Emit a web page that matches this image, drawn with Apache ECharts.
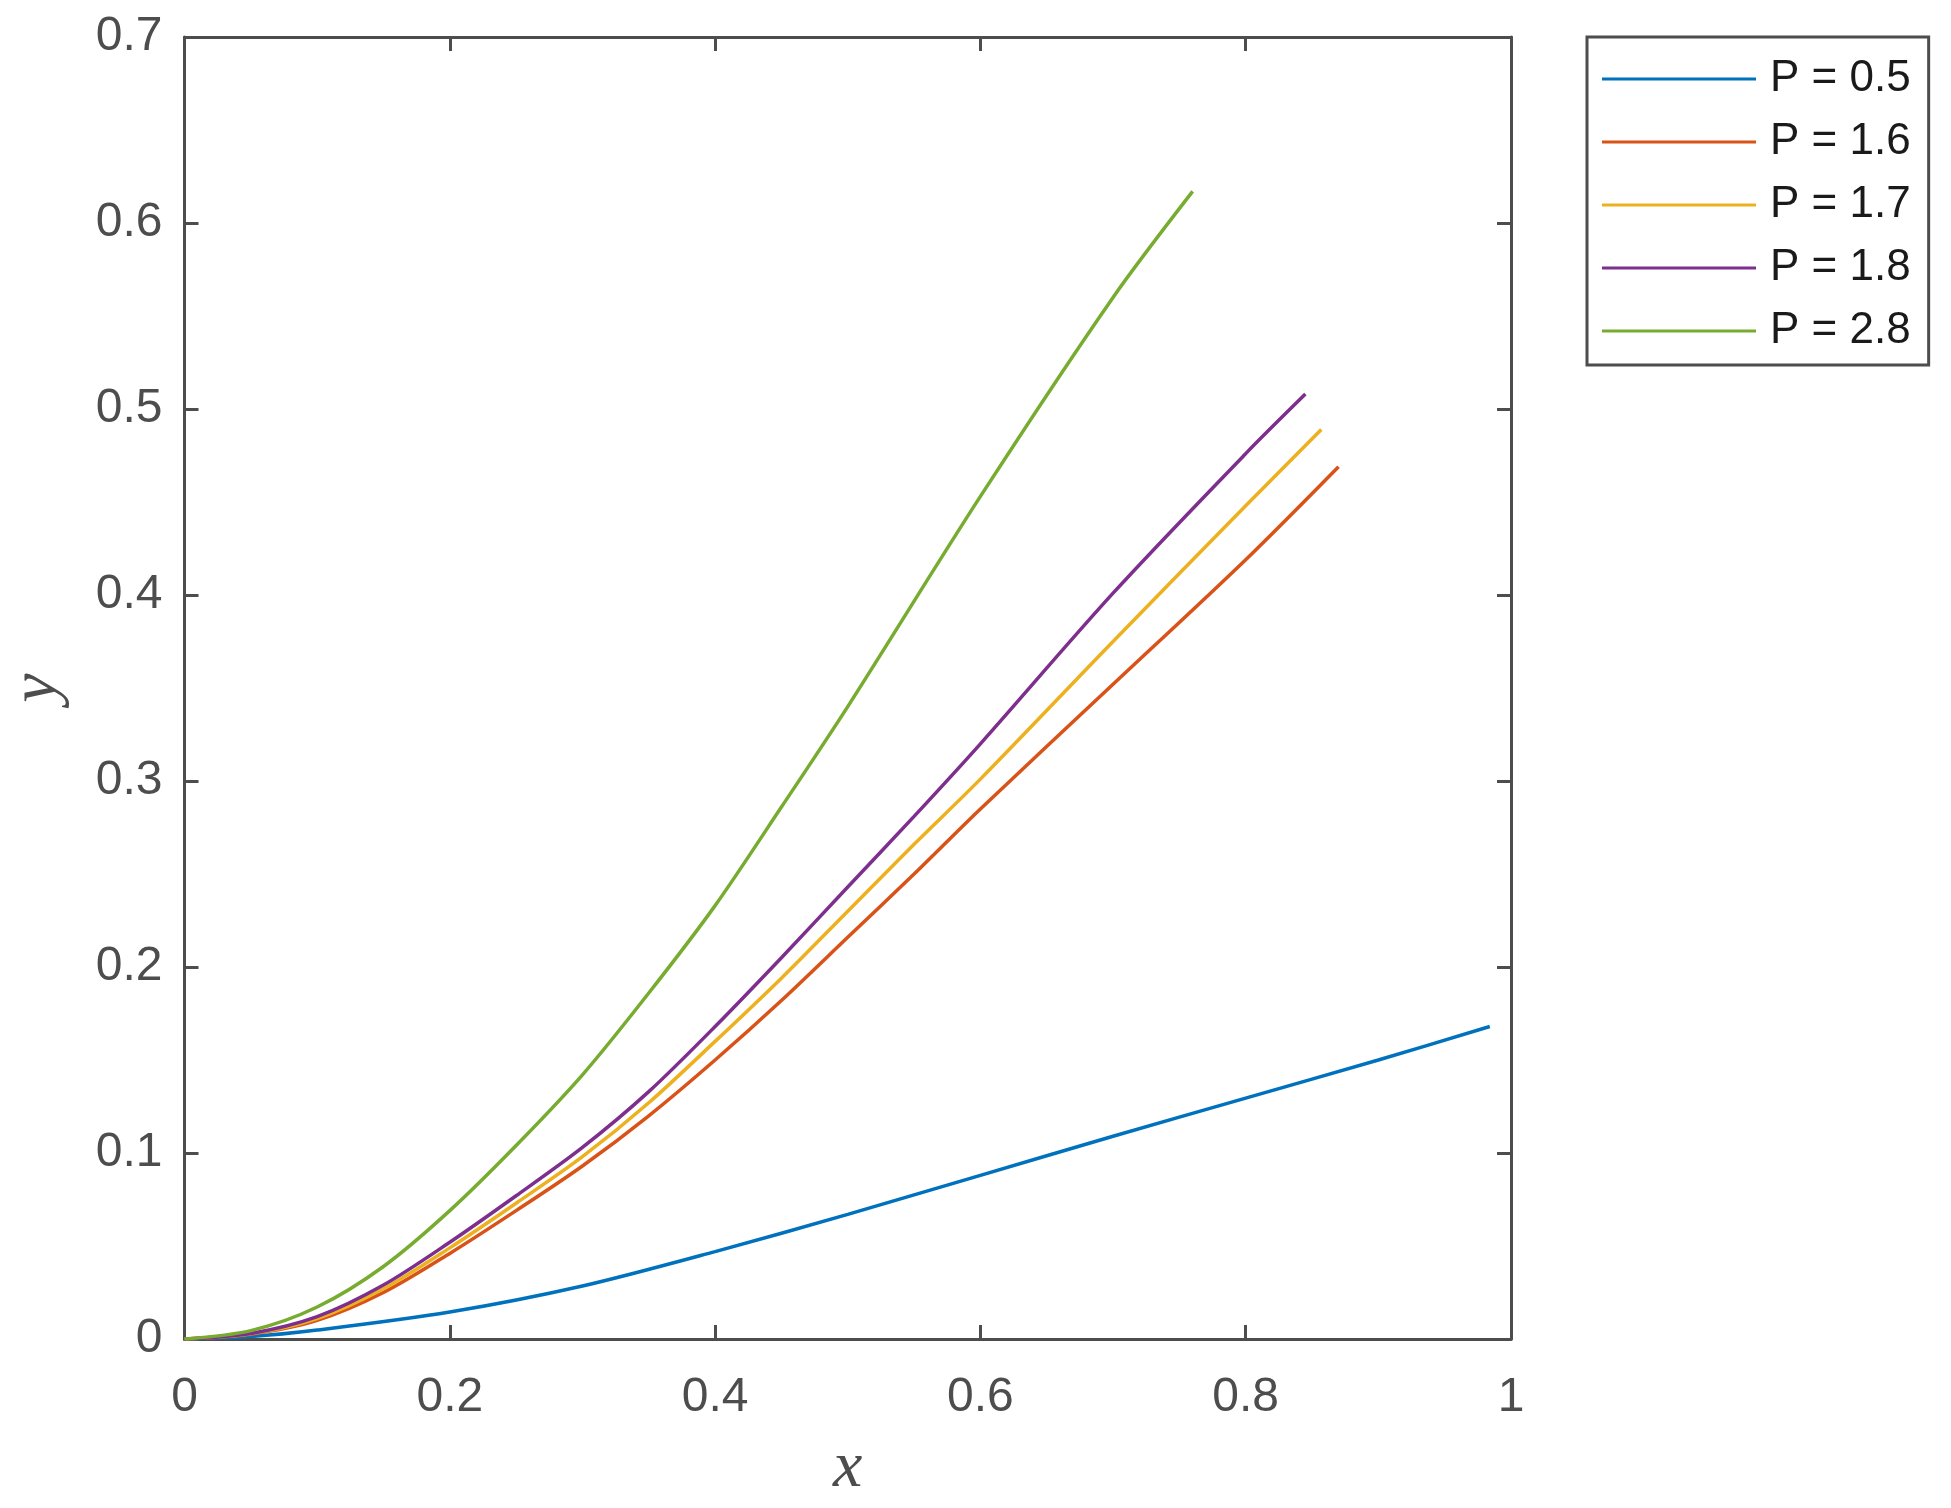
<!DOCTYPE html>
<html>
<head>
<meta charset="utf-8">
<script src="https://cdn.jsdelivr.net/npm/echarts@6/dist/echarts.min.js"></script>
<style>
html,body{margin:0;padding:0;background:#fff;}
#chart{width:1951px;height:1508px;}
</style>
</head>
<body>
<div id="chart"></div>
<script>
// ---- data ----
const seriesNames = ['P = 0.5', 'P = 1.6', 'P = 1.7', 'P = 1.8', 'P = 2.8'];

const xP05 = [0, 0.05, 0.1, 0.2, 0.3, 0.4, 0.5, 0.6, 0.7, 0.8, 0.9, 0.984];
const yP05 = [0, 0.0013, 0.0048, 0.0145, 0.0285, 0.047, 0.067, 0.088, 0.109, 0.1295, 0.150, 0.168];

const xP16 = [0, 0.05, 0.1, 0.15, 0.2, 0.25, 0.3, 0.35, 0.4, 0.45, 0.5, 0.55, 0.6, 0.7, 0.8, 0.870];
const yP16 = [0, 0.0026, 0.010, 0.025, 0.046, 0.069, 0.093, 0.120, 0.150, 0.182, 0.216, 0.250, 0.285, 0.352, 0.419, 0.469];

const xP17 = [0, 0.05, 0.1, 0.15, 0.2, 0.25, 0.3, 0.35, 0.4, 0.45, 0.5, 0.55, 0.6, 0.7, 0.8, 0.857];
const yP17 = [0, 0.0028, 0.011, 0.027, 0.049, 0.073, 0.098, 0.127, 0.160, 0.194, 0.230, 0.266, 0.301, 0.375, 0.448, 0.489];

const xP18 = [0, 0.05, 0.1, 0.15, 0.2, 0.25, 0.3, 0.35, 0.4, 0.45, 0.5, 0.55, 0.6, 0.7, 0.8, 0.845];
const yP18 = [0, 0.003, 0.012, 0.029, 0.052, 0.077, 0.103, 0.133, 0.168, 0.205, 0.243, 0.281, 0.320, 0.401, 0.476, 0.508];

const xP28 = [0, 0.05, 0.1, 0.15, 0.2, 0.25, 0.3, 0.35, 0.4, 0.45, 0.5, 0.6, 0.7, 0.76];
const yP28 = [0, 0.0045, 0.0172, 0.039, 0.069, 0.104, 0.142, 0.186, 0.233, 0.286, 0.340, 0.453, 0.560, 0.617];

const xTicks = ['0', '0.2', '0.4', '0.6', '0.8', '1'];
const yTicks = ['0', '0.1', '0.2', '0.3', '0.4', '0.5', '0.6', '0.7'];

const colors = ['#0072BD', '#D95319', '#EDB120', '#7E2F8E', '#77AC30'];

// ---- build ----
function pairs(xs, ys) { return xs.map((x, i) => [x, ys[i]]); }
const allData = [pairs(xP05, yP05), pairs(xP16, yP16), pairs(xP17, yP17), pairs(xP18, yP18), pairs(xP28, yP28)];

const axisColor = '#4d4d4d';
const fontFamily = '"Liberation Sans", Arial, sans-serif';

const chart = echarts.init(document.getElementById('chart'), null, {renderer: 'canvas'});

const baseTick = {show: true, inside: true, length: 14, lineStyle: {color: axisColor, width: 3}};
const baseLine = {show: true, onZero: false, lineStyle: {color: axisColor, width: 3}};

chart.setOption({
  animation: false,
  backgroundColor: '#ffffff',
  color: colors,
  grid: {left: 184.5, top: 37, width: 1326.5, height: 1302, containLabel: false, outerBoundsMode: 'none'},
  legend: {
    show: true,
    orient: 'vertical',
    left: 1587,
    top: 37,
    data: seriesNames,
    icon: 'rect',
    itemWidth: 154,
    itemHeight: 3,
    itemGap: 19,
    padding: [20, 18, 12, 15],
    borderColor: axisColor,
    borderWidth: 3,
    backgroundColor: '#ffffff',
    selectedMode: false,
    textStyle: {fontFamily: fontFamily, fontSize: 44, lineHeight: 44, color: '#1a1a1a', padding: [0, 0, 0, 9]}
  },
  xAxis: [{
    type: 'value', position: 'bottom', min: 0, max: 1, interval: 0.2,
    axisLine: baseLine, axisTick: baseTick, splitLine: {show: false},
    axisLabel: {
      show: true, margin: 35, color: axisColor, fontFamily: fontFamily, fontSize: 48,
      formatter: function (v) { const i = Math.round(v / 0.2); return xTicks[i] !== undefined ? xTicks[i] : ''; }
    },
    name: 'x', nameLocation: 'middle', nameGap: 97,
    nameTextStyle: {fontFamily: '"Liberation Serif", "DejaVu Serif", serif', fontStyle: 'italic', fontSize: 66, color: axisColor}
  }, {
    type: 'value', position: 'top', min: 0, max: 1, interval: 0.2,
    axisLine: baseLine, axisTick: baseTick, splitLine: {show: false}, axisLabel: {show: false}
  }],
  yAxis: [{
    type: 'value', position: 'left', min: 0, max: 0.7, interval: 0.1,
    axisLine: baseLine, axisTick: baseTick, splitLine: {show: false},
    axisLabel: {
      show: true, margin: 22, color: axisColor, fontFamily: fontFamily, fontSize: 48,
      formatter: function (v) { const i = Math.round(v / 0.1); return yTicks[i] !== undefined ? yTicks[i] : ''; }
    },
    name: 'y', nameLocation: 'middle', nameGap: 114, nameRotate: 90,
    nameTextStyle: {fontFamily: '"Liberation Serif", "DejaVu Serif", serif', fontStyle: 'italic', fontSize: 66, color: axisColor}
  }, {
    type: 'value', position: 'right', min: 0, max: 0.7, interval: 0.1,
    axisLine: baseLine, axisTick: baseTick, splitLine: {show: false}, axisLabel: {show: false}
  }],
  series: allData.map((d, i) => ({
    name: seriesNames[i],
    type: 'line',
    xAxisIndex: 0,
    yAxisIndex: 0,
    data: d,
    showSymbol: false,
    symbol: 'none',
    smooth: 0.3,
    lineStyle: {color: colors[i], width: 3.5},
    itemStyle: {color: colors[i]},
    z: 2 + i
  }))
});
</script>
</body>
</html>
